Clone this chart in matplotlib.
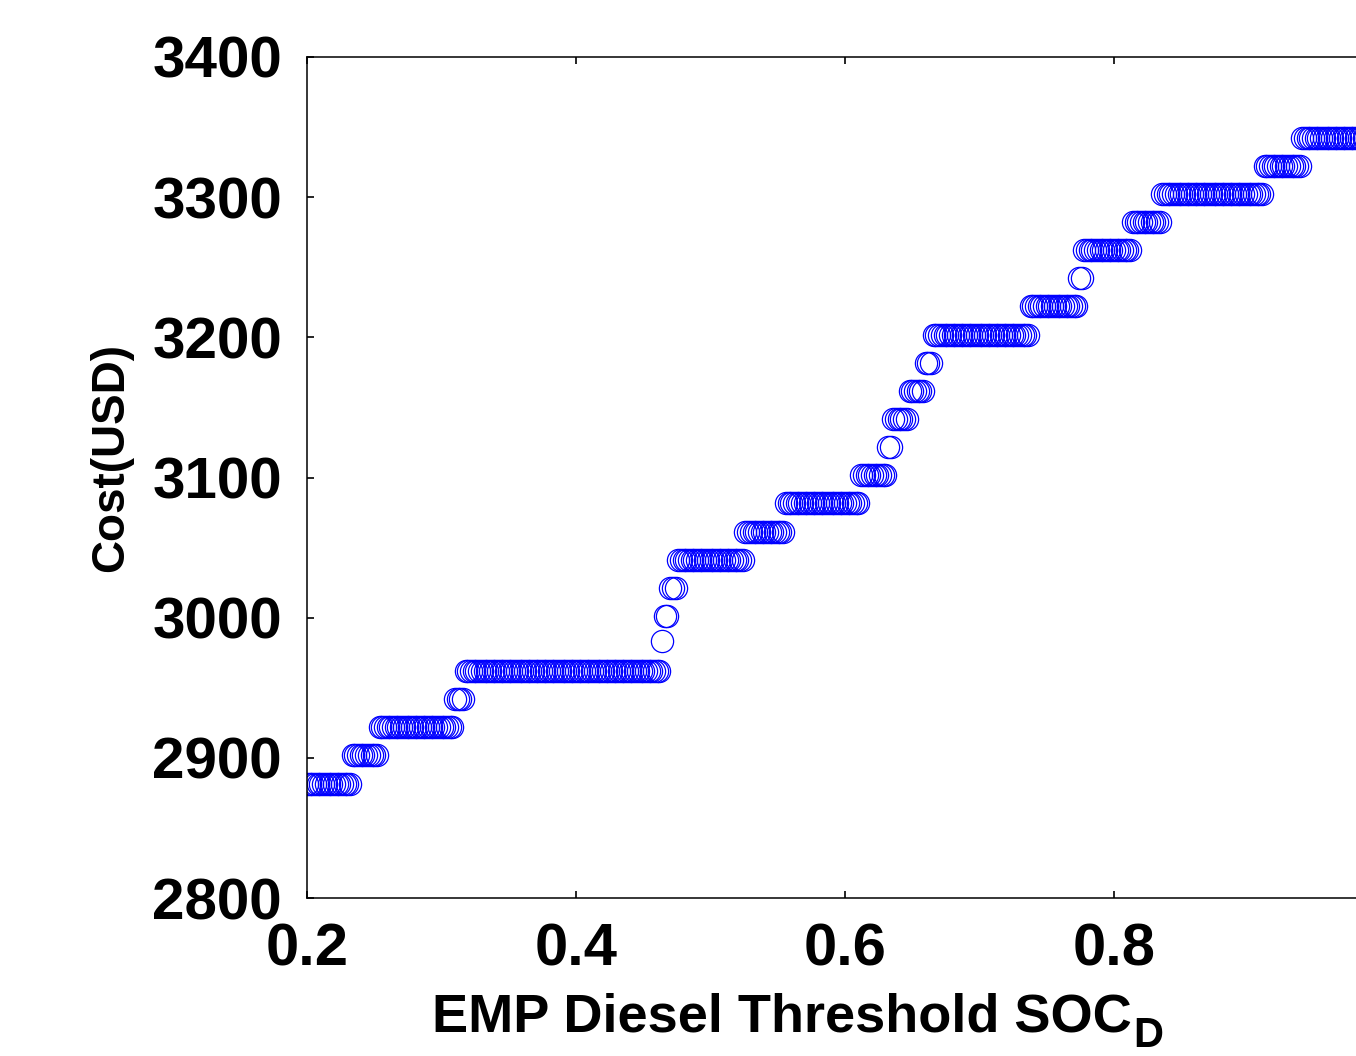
import numpy as np
import matplotlib
matplotlib.use("Agg")
import matplotlib.pyplot as plt

plt.rcParams['font.family'] = ['Liberation Sans', 'DejaVu Sans']

# Step levels of cost (USD) and the SOC_D range over which each level holds
step_cost = [2881, 2902, 2922, 2942, 2962, 2983, 3001, 3021, 3041, 3061, 3082,
             3102, 3122, 3142, 3162, 3182, 3202, 3222, 3242, 3262, 3282, 3302,
             3322, 3342]
step_start = [0.200, 0.234, 0.254, 0.310, 0.318, 0.464, 0.466, 0.470, 0.476,
              0.526, 0.556, 0.612, 0.632, 0.636, 0.648, 0.660, 0.666, 0.738,
              0.774, 0.778, 0.814, 0.836, 0.912, 0.940]
step_end = [0.232, 0.252, 0.308, 0.316, 0.462, 0.464, 0.468, 0.474, 0.524,
            0.554, 0.610, 0.630, 0.634, 0.646, 0.658, 0.664, 0.736, 0.772,
            0.776, 0.812, 0.834, 0.910, 0.938, 1.000]
soc_step = 0.002

xticks = [0.2, 0.4, 0.6, 0.8, 1.0]
xticklabels = ['0.2', '0.4', '0.6', '0.8', '']
yticks = [2800, 2900, 3000, 3100, 3200, 3300, 3400]

xs, ys = [], []
for c, s, e in zip(step_cost, step_start, step_end):
    n = int(round((e - s) / soc_step)) + 1
    for i in range(n):
        xs.append(s + i * soc_step)
        ys.append(c)

W, H = 1356, 1056
fig = plt.figure(figsize=(W / 100, H / 100), dpi=100)
ax = fig.add_axes([307 / W, 1 - 898 / H, 1076 / W, 841 / H])
ax.plot(xs, ys, linestyle='none', marker='o', markersize=16,
        markerfacecolor='none', markeredgecolor='#0000ff', markeredgewidth=0.9)

ax.set_xlim(0.2, 1.0)
ax.set_ylim(2800, 3400)
ax.set_xticks(xticks)
ax.set_xticklabels(xticklabels)
ax.set_yticks(yticks)
ax.set_yticklabels([str(v) for v in yticks])
ax.tick_params(axis='both', direction='in', length=5, width=1.2, top=True, right=True)
ax.tick_params(axis='x', labelsize=43, pad=18)
ax.tick_params(axis='y', labelsize=42, pad=18)
for lab in ax.get_xticklabels() + ax.get_yticklabels():
    lab.set_fontweight('bold')
for sp in ax.spines.values():
    sp.set_linewidth(1.1)

ax.set_ylabel('Cost(USD)', fontsize=33, fontweight='bold')
ax.yaxis.label.set_va('center')
ax.yaxis.label.set_ha('center')
ax.yaxis.set_label_coords((111 - 307) / 1076, (898 - 458) / 841)

ax.set_xlabel('EMP Diesel Threshold SOC', fontsize=39, fontweight='bold')
ax.xaxis.label.set_va('baseline')
ax.xaxis.label.set_ha('left')
ax.xaxis.set_label_coords((432 - 307) / 1076, (898 - 1032) / 841)

fig.canvas.draw()
bb = ax.xaxis.label.get_window_extent()
fig.text((bb.x1 + 1) / W, 1 - 1047 / H, 'D', fontsize=30, fontweight='bold',
         ha='left', va='baseline')

fig.savefig('out.png', dpi=100)
